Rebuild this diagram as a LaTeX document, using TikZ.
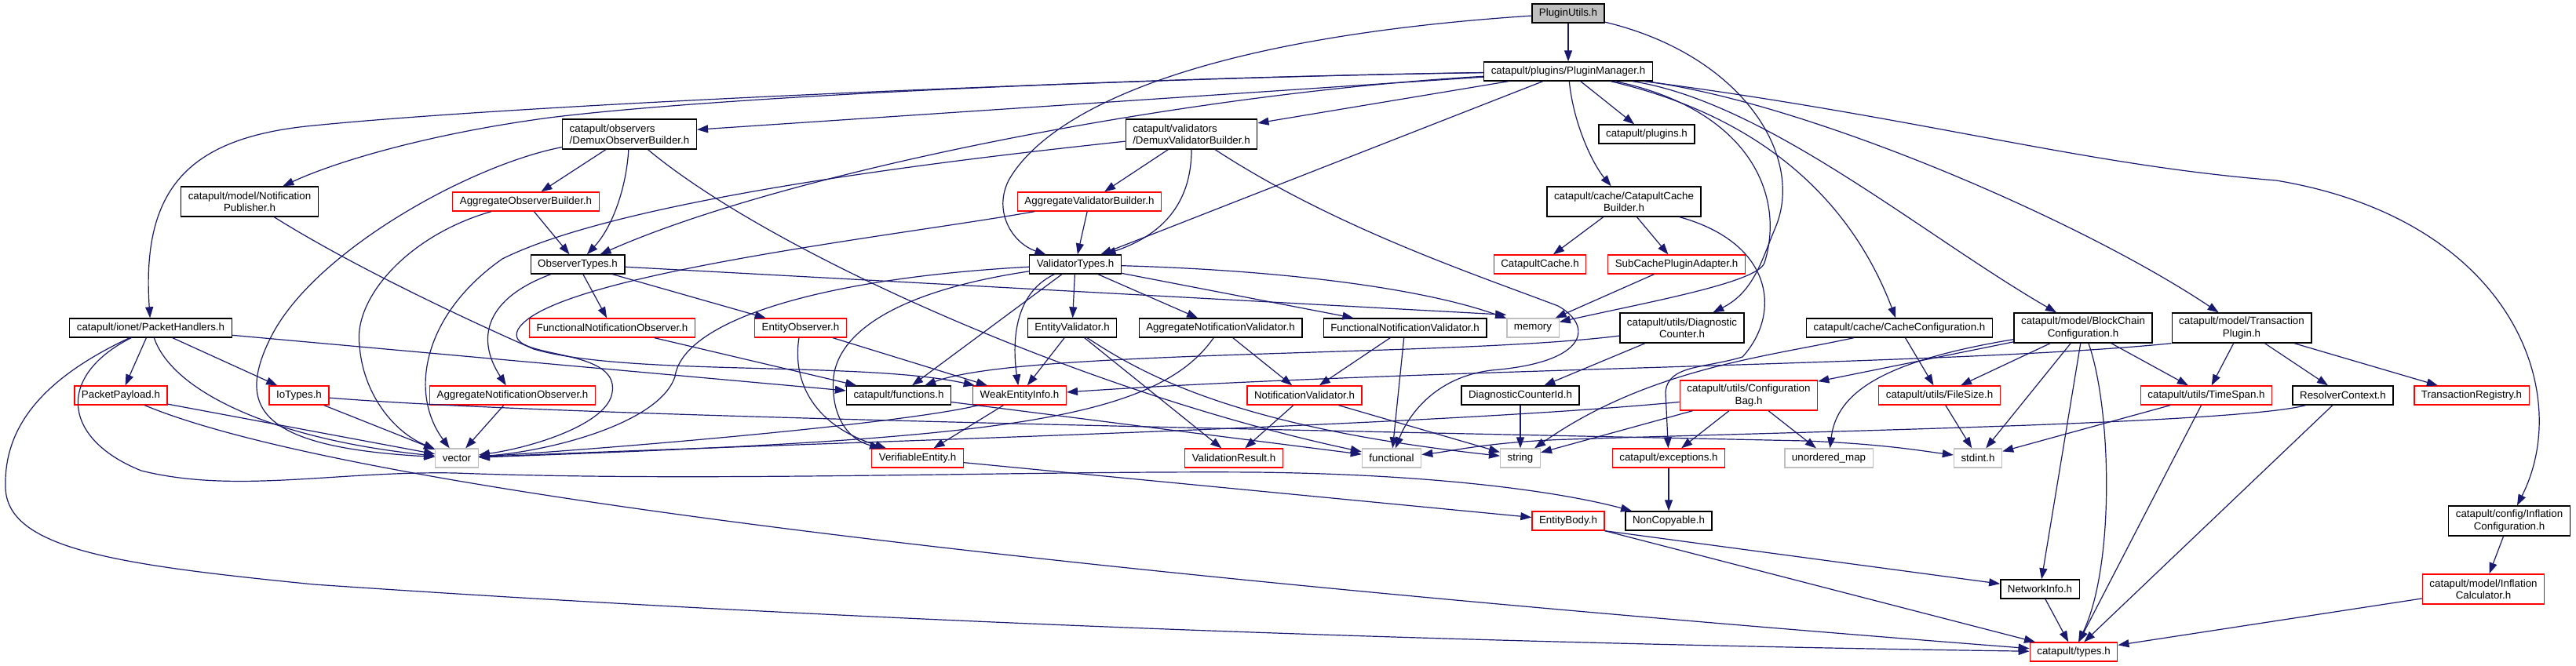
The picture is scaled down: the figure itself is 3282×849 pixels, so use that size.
\documentclass[tikz,border=0pt]{standalone}
\usepackage{fontspec}
\setmainfont{Liberation Sans}
\usetikzlibrary{arrows.meta}
\definecolor{edgec}{HTML}{191970}
\definecolor{grayb}{HTML}{BFBFBF}
\definecolor{redb}{HTML}{FF0000}
\begin{document}
\begin{tikzpicture}[x=0.75pt,y=-0.75pt,
  nb/.style={draw=black, line width=1pt, fill=white, font=\fontsize{10}{11.5}\selectfont, inner xsep=6.8pt, inner ysep=1pt, minimum height=18pt},
  rb/.style={nb, draw=redb},
  gb/.style={nb, draw=grayb},
  cur/.style={nb, fill=grayb},
  two/.style={minimum height=28.5pt, align=center},
  twol/.style={minimum height=28.5pt, align=left},
  edge/.style={draw=edgec, line width=0.9pt, -{Triangle[length=10.5pt,width=7.5pt]}}]
\useasboundingbox (0,0) rectangle (3282,849);
\fill[white] (0,0) rectangle (3282,849);

% nodes
\node[cur] (PU) at (1998,17) {PluginUtils.h};
\node[nb] (PM) at (1998,91) {catapult/plugins/PluginManager.h};
\node[nb,twol] (DOB) at (802,171) {catapult/observers\\/DemuxObserverBuilder.h};
\node[nb,two] (NP) at (318,257) {catapult/model/Notification\\Publisher.h};
\node[rb] (AOB) at (670,257) {AggregateObserverBuilder.h};
\node[nb] (OT) at (736,337) {ObserverTypes.h};
\node[nb] (PH) at (192,418) {catapult/ionet/PacketHandlers.h};
\node[rb] (FNO) at (780,418) {FunctionalNotificationObserver.h};
\node[rb] (EO) at (1020,418) {EntityObserver.h};
\node[nb,twol] (DVB) at (1518,171) {catapult/validators\\/DemuxValidatorBuilder.h};
\node[nb] (PL) at (2098,171) {catapult/plugins.h};
\node[rb] (AVB) at (1388,257) {AggregateValidatorBuilder.h};
\node[nb,two] (CCB) at (2069,257) {catapult/cache/CatapultCache\\Builder.h};
\node[nb] (VT) at (1370,337) {ValidatorTypes.h};
\node[rb] (CC) at (1962,337) {CatapultCache.h};
\node[rb] (SCPA) at (2136,337) {SubCachePluginAdapter.h};
\node[nb] (EV) at (1366,418) {EntityValidator.h};
\node[nb] (ANV) at (1555,418) {AggregateNotificationValidator.h};
\node[nb] (FNV) at (1790,418) {FunctionalNotificationValidator.h};
\node[gb] (MEM) at (1953,418) {memory};
\node[nb,two] (DC) at (2143,418) {catapult/utils/Diagnostic\\Counter.h};
\node[nb] (CCF) at (2420,418) {catapult/cache/CacheConfiguration.h};
\node[nb,two] (BCC) at (2654,418) {catapult/model/BlockChain\\Configuration.h};
\node[nb,two] (TP) at (2856,418) {catapult/model/Transaction\\Plugin.h};
\node[rb] (PP) at (154,504) {PacketPayload.h};
\node[rb] (IO) at (381,504) {IoTypes.h};
\node[rb] (ANO) at (653,504) {AggregateNotificationObserver.h};
\node[nb] (FN) at (1145,504) {catapult/functions.h};
\node[rb] (WEI) at (1299,504) {WeakEntityInfo.h};
\node[rb] (NV) at (1662,504) {NotificationValidator.h};
\node[nb] (DCI) at (1937,504) {DiagnosticCounterId.h};
\node[rb,two] (CB) at (2228,504) {catapult/utils/Configuration\\Bag.h};
\node[rb] (FS) at (2471,504) {catapult/utils/FileSize.h};
\node[rb] (TS) at (2811,504) {catapult/utils/TimeSpan.h};
\node[nb] (RC) at (2985,504) {ResolverContext.h};
\node[rb] (TR) at (3149,504) {TransactionRegistry.h};
\node[gb] (VEC) at (582,584) {vector};
\node[rb] (VE) at (1169,584) {VerifiableEntity.h};
\node[rb] (VR) at (1572,584) {ValidationResult.h};
\node[gb] (FUN) at (1773,584) {functional};
\node[gb] (STR) at (1937,584) {string};
\node[rb] (EXC) at (2126,584) {catapult/exceptions.h};
\node[gb] (UM) at (2330,584) {unordered\_map};
\node[gb] (STD) at (2520,584) {stdint.h};
\node[rb] (EB) at (1998,664) {EntityBody.h};
\node[nb] (NC) at (2126,664) {NonCopyable.h};
\node[nb,two] (IC) at (3197,664) {catapult/config/Inflation\\Configuration.h};
\node[nb] (NI) at (2599,751) {NetworkInfo.h};
\node[rb,two] (ICALC) at (3164,751) {catapult/model/Inflation\\Calculator.h};
\node[rb] (TY) at (2642,831) {catapult/types.h};

% PluginUtils
\draw[edge] (PU) -- (PM);
\draw[edge] (PU) .. controls (1500,50) and (1330,150) .. (1285,230) .. controls (1265,270) and (1290,310) .. (VT);
\draw[edge] (PU) .. controls (2220,70) and (2300,200) .. (2262,290) .. controls (2245,330) and (2235,372) .. (DC);
% PluginManager
\draw[edge] (PM) .. controls (1500,98) and (700,130) .. (400,160) .. controls (240,175) and (180,240) .. (PH);
\draw[edge] (PM) .. controls (1400,100) and (900,125) .. (700,150) .. controls (550,170) and (430,205) .. (NP);
\draw[edge] (PM) -- (DOB);
\draw[edge] (PM) .. controls (1500,120) and (1000,220) .. (OT);
\draw[edge] (PM) -- (DVB);
\draw[edge] (PM) -- (VT);
\draw[edge] (PM) -- (PL);
\draw[edge] (PM) .. controls (2005,160) and (2030,210) .. (CCB);
\draw[edge] (PM) .. controls (2230,140) and (2275,250) .. (2248,335) .. controls (2240,360) and (2100,385) .. (MEM);
\draw[edge] (PM) .. controls (2250,150) and (2360,260) .. (CCF);
\draw[edge] (PM) .. controls (2250,130) and (2450,300) .. (BCC);
\draw[edge] (PM) .. controls (2300,130) and (2650,280) .. (TP);
\draw[edge] (PM) .. controls (2450,150) and (2650,210) .. (2900,230) .. controls (3200,280) and (3280,500) .. (IC);
% DemuxObserverBuilder
\draw[edge] (DOB) -- (AOB);
\draw[edge] (DOB) .. controls (798,240) and (780,290) .. (OT);
\draw[edge] (DOB) .. controls (600,210) and (400,320) .. (345,430) .. controls (300,520) and (330,570) .. (VEC);
\draw[edge] (DOB) .. controls (980,320) and (1380,500) .. (FUN);
% DemuxValidatorBuilder
\draw[edge] (DVB) -- (AVB);
\draw[edge] (DVB) .. controls (1518,260) and (1480,300) .. (VT);
\draw[edge] (DVB) .. controls (1250,200) and (800,250) .. (640,330) .. controls (540,400) and (520,500) .. (VEC);
\draw[edge] (DVB) .. controls (1700,290) and (1880,350) .. (1985,390) .. controls (2030,415) and (2025,462) .. (1900,472) .. controls (1820,482) and (1790,540) .. (FUN);
% NotificationPublisher
\draw[edge] (NP) .. controls (450,340) and (600,410) .. (680,445) .. controls (800,480) and (1100,460) .. (WEI);
% Aggregate builders
\draw[edge] (AOB) -- (OT);
\draw[edge] (AOB) .. controls (520,300) and (450,380) .. (458,440) .. controls (462,500) and (500,550) .. (VEC);
\draw[edge] (AVB) -- (VT);
\draw[edge] (AVB) .. controls (1150,300) and (700,350) .. (660,420) .. controls (640,460) and (790,440) .. (780,500) .. controls (775,540) and (680,570) .. (VEC);
% CatapultCacheBuilder
\draw[edge] (CCB) -- (CC);
\draw[edge] (CCB) -- (SCPA);
\draw[edge] (CCB) .. controls (2260,310) and (2270,400) .. (2220,455) .. controls (2170,470) and (2125,465) .. (2122,500) -- (EXC);
\draw[edge] (SCPA) -- (MEM);
% ObserverTypes
\draw[edge] (OT) -- ([yshift=3pt]MEM.north west);
\draw[edge] (OT) -- (FNO);
\draw[edge] (OT) -- (EO);
\draw[edge] (OT) .. controls (620,380) and (605,430) .. (ANO);
% ValidatorTypes
\draw[edge] (VT) .. controls (1650,345) and (1820,370) .. (MEM);
\draw[edge] (VT) -- (EV);
\draw[edge] (VT) -- (ANV);
\draw[edge] (VT) -- (FNV);
\draw[edge] (VT) -- (FN);
\draw[edge] (VT) .. controls (1290,375) and (1290,440) .. (WEI);
\draw[edge] (VT) .. controls (1150,370) and (1070,420) .. (1062,480) .. controls (1058,530) and (1080,560) .. (VE);
\draw[edge] (VT) .. controls (1040,355) and (870,410) .. (860,480) .. controls (840,540) and (700,575) .. (VEC);
% PacketHandlers
\draw[edge] (PH) -- (PP);
\draw[edge] (PH) -- (IO);
\draw[edge] (PH) .. controls (220,500) and (350,560) .. (VEC);
\draw[edge] (PH) -- (FN);
\draw[edge] (PH) .. controls (60,480) and (5,540) .. (7,620) .. controls (7,700) and (150,720) .. (400,745) .. controls (1200,800) and (2000,822) .. (TY);
\draw[edge] (PH) .. controls (70,480) and (80,560) .. (180,600) .. controls (300,630) and (430,600) .. (580,603) .. controls (900,615) and (1300,600) .. (1600,602) .. controls (1850,605) and (2000,630) .. (NC);
% observers
\draw[edge] (FNO) -- (FN);
\draw[edge] (EO) -- (WEI);
\draw[edge] (EO) .. controls (1010,480) and (1030,540) .. (VE);
% validators
\draw[edge] (EV) -- (WEI);
\draw[edge] (EV) -- (VR);
\draw[edge] (EV) .. controls (1460,480) and (1580,545) .. (STR);
\draw[edge] (ANV) -- (NV);
\draw[edge] (ANV) .. controls (1470,540) and (1250,560) .. (VEC);
\draw[edge] (FNV) -- (NV);
\draw[edge] (FNV) -- (FUN);
% DiagnosticCounter
\draw[edge] (DC) .. controls (1850,455) and (1300,445) .. (FN);
\draw[edge] (DC) -- (DCI);
% CacheConfiguration
\draw[edge] (CCF) -- (FS);
\draw[edge] (CCF) .. controls (2250,455) and (2100,470) .. (STR);
% BlockChainConfiguration
\draw[edge] (BCC) -- (CB);
\draw[edge] (BCC) .. controls (2400,460) and (2340,500) .. (UM);
\draw[edge] (BCC) -- (FS);
\draw[edge] (BCC) -- (STD);
\draw[edge] (BCC) -- (TS);
\draw[edge] (BCC) -- (NI);
\draw[edge] (BCC) .. controls (2690,520) and (2695,720) .. (TY);
% TransactionPlugin
\draw[edge] (TP.south west) .. controls (2500,465) and (1800,470) .. (WEI);
\draw[edge] (TP) -- (TS);
\draw[edge] (TP) -- (RC);
\draw[edge] (TP) -- (TR);
% third row
\draw[edge] (PP) -- (VEC);
\draw[edge] (PP) .. controls (480,640) and (1600,750) .. (TY);
\draw[edge] (IO) -- (VEC);
\draw[edge] (IO) .. controls (700,530) and (1500,545) .. (2300,562) .. controls (2400,566) and (2450,575) .. (STD);
\draw[edge] (ANO) -- (VEC);
\draw[edge] (FN) -- (FUN);
\draw[edge] (WEI) -- (VE);
\draw[edge] (WEI) .. controls (1150,540) and (800,570) .. (VEC);
\draw[edge] (NV) -- (VR);
\draw[edge] (NV) -- (STR);
\draw[edge] (DCI) -- (STR);
\draw[edge] (CB) .. controls (1800,545) and (1000,565) .. (VEC);
\draw[edge] (CB) -- (EXC);
\draw[edge] (CB) -- (UM);
\draw[edge] (CB) -- (STR);
\draw[edge] (FS) -- (STD);
\draw[edge] (TS) -- (STD);
\draw[edge] (TS) -- (TY);
\draw[edge] (RC) .. controls (2850,540) and (2300,550) .. (2000,560) .. controls (1900,563) and (1850,575) .. (FUN);
\draw[edge] (RC) -- (TY);
% lower rows
\draw[edge] (VE) -- (EB);
\draw[edge] (EXC) -- (NC);
\draw[edge] (EB.south east) -- (NI);
\draw[edge] (EB.south east) -- (TY);
\draw[edge] (NI) -- (TY);
\draw[edge] (IC) -- (ICALC);
\draw[edge] (ICALC) -- (TY);
\end{tikzpicture}
\end{document}
